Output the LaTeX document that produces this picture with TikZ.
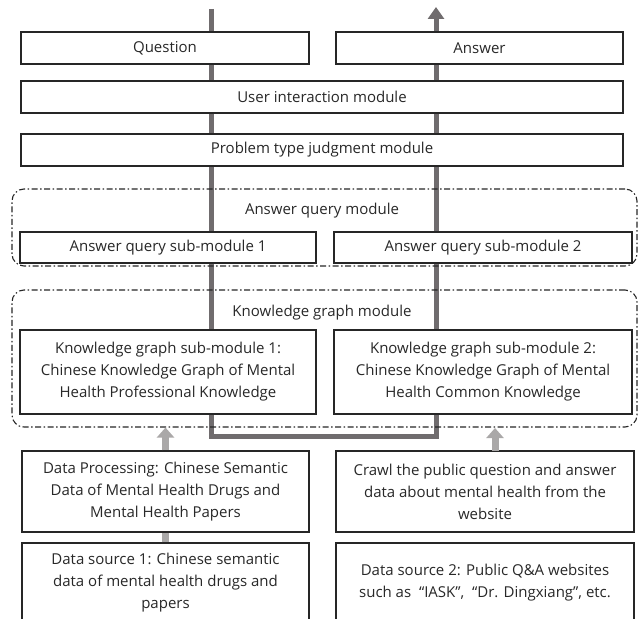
\documentclass[tikz,border=0pt]{standalone}
\usepackage{fontspec}
\setmainfont{Open Sans}
\usetikzlibrary{arrows.meta}
\definecolor{linegray}{RGB}{112,108,110}
\definecolor{arrowgray}{RGB}{170,168,168}
\definecolor{textgray}{RGB}{40,40,40}
\tikzset{
	box/.style={draw=black!85,line width=1.3pt,fill=white,text=textgray,align=center,inner sep=0pt,font=\fontsize{15}{22}\selectfont},
	groupbox/.style={draw=black!85,line width=1.1pt,rounded corners=12pt,dash pattern=on 6pt off 2.5pt on 1.5pt off 2.5pt},
	grouplabel/.style={text=textgray,font=\fontsize{15}{22}\selectfont},
	flowline/.style={draw=linegray,line width=5pt,line join=miter},
	feedarrow/.style={draw=arrowgray,line width=7pt,-{Triangle[width=17pt,length=10pt]}},
	feedbar/.style={draw=arrowgray,line width=7pt},
}
\begin{document}
\begin{tikzpicture}[x=1pt,y=-1pt]
	\useasboundingbox (0,0) rectangle (639,618);
	\clip (0,0) rectangle (639,618);
	% question goes down, answer comes back up
	\coordinate (qin) at (211,9);
	\coordinate (turnl) at (211,436);
	\coordinate (turnr) at (436,436);
	\coordinate (aout) at (436,7);
	\draw[flowline,-{Triangle[width=16pt,length=12pt]}] (qin)--(turnl)--(turnr)--(aout);
	% top modules
	\node[box,minimum width=288,minimum height=32] (q) at (165,48) {Question};
	\node[box,minimum width=287,minimum height=32] (a) at (479.5,48) {Answer};
	\node[box,minimum width=602,minimum height=32] (ui) at (322,97) {User interaction module};
	\node[box,minimum width=602,minimum height=32] (pt) at (322,150) {Problem type judgment module};
	% answer query module
	\node[groupbox,minimum width=625,minimum height=77] (aqm) at (324.5,227.5) {};
	\node[grouplabel] (aqmlabel) at (322,211) {Answer query module};
	\node[box,minimum width=296,minimum height=31] (aq1) at (168,247.5) {Answer query sub-module 1};
	\node[box,minimum width=298,minimum height=31] (aq2) at (483,247.5) {Answer query sub-module 2};
	% knowledge graph module
	\node[groupbox,minimum width=625,minimum height=137] (kgm) at (324.5,358.5) {};
	\node[grouplabel] (kgmlabel) at (322,313) {Knowledge graph module};
	\node[box,minimum width=296,minimum height=84] (kg1) at (168,372) {Knowledge graph sub-module 1:\\Chinese Knowledge Graph of Mental\\Health Professional Knowledge};
	\node[box,minimum width=298,minimum height=84] (kg2) at (483,372) {Knowledge graph sub-module 2:\\Chinese Knowledge Graph of Mental\\Health Common Knowledge};
	% data
	\node[box,minimum width=287,minimum height=81] (dp) at (165.5,491.5) {Data Processing: Chinese Semantic\\Data of Mental Health Drugs and\\Mental Health Papers};
	\node[box,minimum width=298,minimum height=81] (cr) at (485,491.5) {Crawl the public question and answer\\data about mental health from the\\website};
	\node[box,minimum width=287,minimum height=80] (ds1) at (165.5,583) {Data source 1: Chinese semantic\\data of mental health drugs and\\papers};
	\node[box,minimum width=298,minimum height=80] (ds2) at (485,583) {Data source 2: Public Q\&A websites\\such as ~“IASK”, ~“Dr. Dingxiang”, etc.};
	\draw[feedbar] (ds1.north)--(dp.south);
	\draw[feedbar] (ds2.north |- cr.south)--(cr.south);
	\draw[feedarrow] (dp.north)--(dp.north |- kgm.south);
	\draw[feedarrow] (495,451)--(495,428);
\end{tikzpicture}
\end{document}
